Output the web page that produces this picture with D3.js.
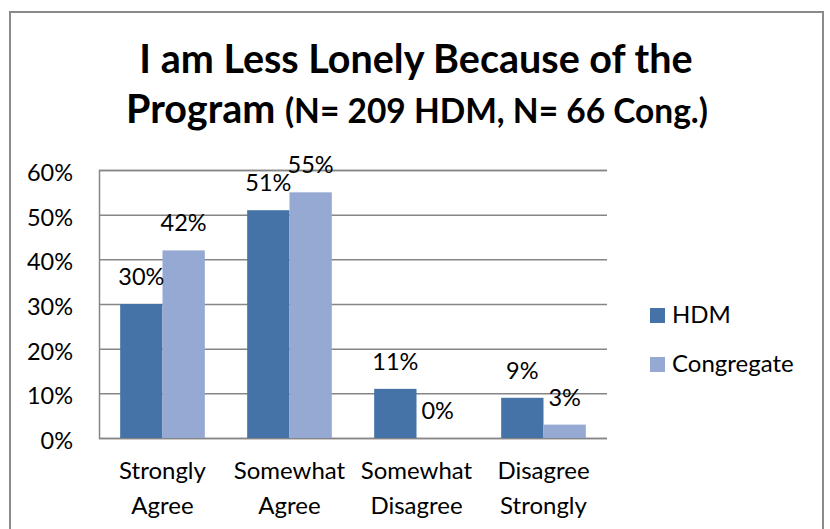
<!DOCTYPE html>
<html>
<head>
<meta charset="utf-8">
<script src="https://cdn.jsdelivr.net/npm/d3@7"></script>
<style>
  html, body { margin: 0; padding: 0; background: #fff; }
  svg { display: block; font-family: Lato, "Open Sans", sans-serif; }
</style>
</head>
<body>
<svg id="chart" width="830" height="529"></svg>
<script>
const categories = [["Strongly", "Agree"], ["Somewhat", "Agree"], ["Somewhat", "Disagree"], ["Disagree", "Strongly"]];
const seriesNames = ["HDM", "Congregate"];
const hdmValues = [0.30, 0.51, 0.11, 0.09];
const congregateValues = [0.42, 0.55, 0.00, 0.03];
const yTicks = [0, 0.1, 0.2, 0.3, 0.4, 0.5, 0.6];
const titleLine1 = "I am Less Lonely Because of the";
const titleLine2a = "Program ";
const titleLine2b = "(N= 209 HDM, N= 66 Cong.)";

const colors = { HDM: "#4572A7", Congregate: "#95A9D2" };
const seriesValues = { HDM: hdmValues, Congregate: congregateValues };

const svg = d3.select("#chart");

// outer chart border
svg.append("rect")
  .attr("x", 10).attr("y", 12)
  .attr("width", 813).attr("height", 530)
  .attr("fill", "#fff")
  .attr("stroke", "#8a8a8a").attr("stroke-width", 2);

// title
const title = svg.append("text")
  .attr("text-anchor", "middle")
  .attr("font-weight", "bold")
  .attr("fill", "#000");
title.append("tspan").attr("x", 416).attr("y", 73).attr("font-size", 39.5).text(titleLine1);
const l2 = title.append("tspan").attr("x", 417).attr("y", 123);
l2.append("tspan").attr("font-size", 39.5).text(titleLine2a);
l2.append("tspan").attr("font-size", 33.5).text(titleLine2b);

const plot = { left: 99, right: 607, top: 170, bottom: 438 };

const y = d3.scaleLinear().domain([0, 0.6]).range([plot.bottom, plot.top]);
const x0 = d3.scaleBand().domain(d3.range(categories.length)).range([plot.left, plot.right]).padding(0);
const x1 = d3.scaleBand().domain(seriesNames).range([0, x0.bandwidth()]).paddingInner(0).paddingOuter(0.5);

// gridlines + axis
const yAxis = d3.axisLeft(y).tickValues(yTicks).tickFormat(d3.format(".0%")).tickSize(-(plot.right - plot.left)).tickPadding(26);
const gy = svg.append("g").attr("transform", `translate(${plot.left},0)`).call(yAxis);
gy.select(".domain").attr("stroke", "#868686").attr("stroke-width", 1.5);
gy.selectAll(".tick line").attr("stroke", "#868686").attr("stroke-width", 1.5);
gy.selectAll(".tick text")
  .attr("font-family", "Lato, sans-serif")
  .attr("font-size", 23.5)
  .attr("fill", "#000")
  .attr("dy", "0.45em");

// bars
const groups = svg.append("g").selectAll("g")
  .data(categories.map((c, i) => i))
  .join("g")
  .attr("transform", i => `translate(${x0(i)},0)`);

groups.selectAll("rect")
  .data(i => seriesNames.map(s => ({ s, v: seriesValues[s][i] })))
  .join("rect")
  .attr("x", d => x1(d.s))
  .attr("width", x1.bandwidth())
  .attr("y", d => y(d.v))
  .attr("height", d => y(0) - y(d.v))
  .attr("fill", d => colors[d.s]);

groups.selectAll("text")
  .data(i => seriesNames.map(s => ({ s, v: seriesValues[s][i] })))
  .join("text")
  .attr("x", d => x1(d.s) + x1.bandwidth() / 2)
  .attr("y", d => y(d.v) - 19)
  .attr("text-anchor", "middle")
  .attr("font-size", 23.5)
  .attr("fill", "#000")
  .text(d => d3.format(".0%")(d.v));

// category labels
const cat = svg.append("g").selectAll("text")
  .data(categories.map((c, i) => ({ c, i })))
  .join("text")
  .attr("text-anchor", "middle")
  .attr("font-size", 24)
  .attr("fill", "#000");
cat.append("tspan").attr("x", d => x0(d.i) + x0.bandwidth() / 2).attr("y", 479).text(d => d.c[0]);
cat.append("tspan").attr("x", d => x0(d.i) + x0.bandwidth() / 2).attr("y", 514).text(d => d.c[1]);

// legend
const legend = svg.append("g").selectAll("g")
  .data(seriesNames)
  .join("g")
  .attr("transform", (d, i) => `translate(650,${308 + i * 49})`);
legend.append("rect").attr("width", 15).attr("height", 15).attr("fill", d => colors[d]);
legend.append("text").attr("x", 22).attr("y", 15).attr("font-size", 24).attr("fill", "#000").text(d => d);
</script>
</body>
</html>
